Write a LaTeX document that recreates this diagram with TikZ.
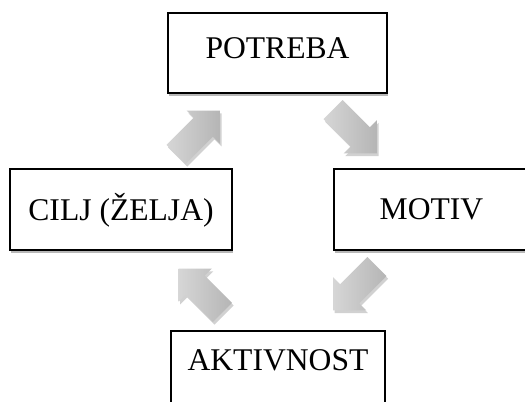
\documentclass[tikz,border=0pt]{standalone}
\usepackage{fontspec}
\setmainfont{Liberation Serif}
\usetikzlibrary{shadows}
\begin{document}
\begin{tikzpicture}[x=0.75pt,y=-0.75pt,
  boxnode/.style={draw=black, line width=1.1pt, fill=white, rectangle, inner sep=0pt,
    minimum height=60.75pt, font=\fontsize{23.7}{28}\selectfont,
    text height=0.66em, text depth=0pt,
    drop shadow={shadow xshift=1pt, shadow yshift=-2.5pt, opacity=0.28, fill=black}},
  blockarrow/.style={left color=gray!32, right color=gray!58, draw=none,
    drop shadow={shadow xshift=1.2pt, shadow yshift=-2pt, opacity=0.18, fill=black}}]
\useasboundingbox (0,0) rectangle (525,401);
\clip (0,0) rectangle (525,401);
\fill[white] (0,0) rectangle (525,401);

\node[boxnode, minimum width=164.25pt, minimum height=60pt, text height={0.66em+1.5pt}] (pot) at (277.5,53) {POTREBA};
\node[boxnode, minimum width=166.5pt, text height={0.66em+9.75pt}] (cilj) at (121,209.5) {CILJ (ŽELJA)};
\node[boxnode, minimum width=146.25pt, text height={0.66em+8.25pt}] (mot) at (431.5,209.5) {MOTIV};
\node[boxnode, minimum width=160.5pt, text depth=8.25pt] (akt) at (278,371.5) {AKTIVNOST};

\coordinate (a1) at (198,132.5);
\coordinate (a2) at (355,131.5);
\coordinate (a3) at (355,288.5);
\coordinate (a4) at (200.5,290.5);

\foreach \c/\ang in {a1/45, a2/-45, a3/-135, a4/135}{
  \begin{scope}[shift={(\c)}, rotate=\ang]
    \path[blockarrow] (-31,-13.5) -- (7.5,-13.5) -- (7.5,-23.5) -- (31,0)
      -- (7.5,23.5) -- (7.5,13.5) -- (-31,13.5) -- cycle;
  \end{scope}
}
\end{tikzpicture}
\end{document}
